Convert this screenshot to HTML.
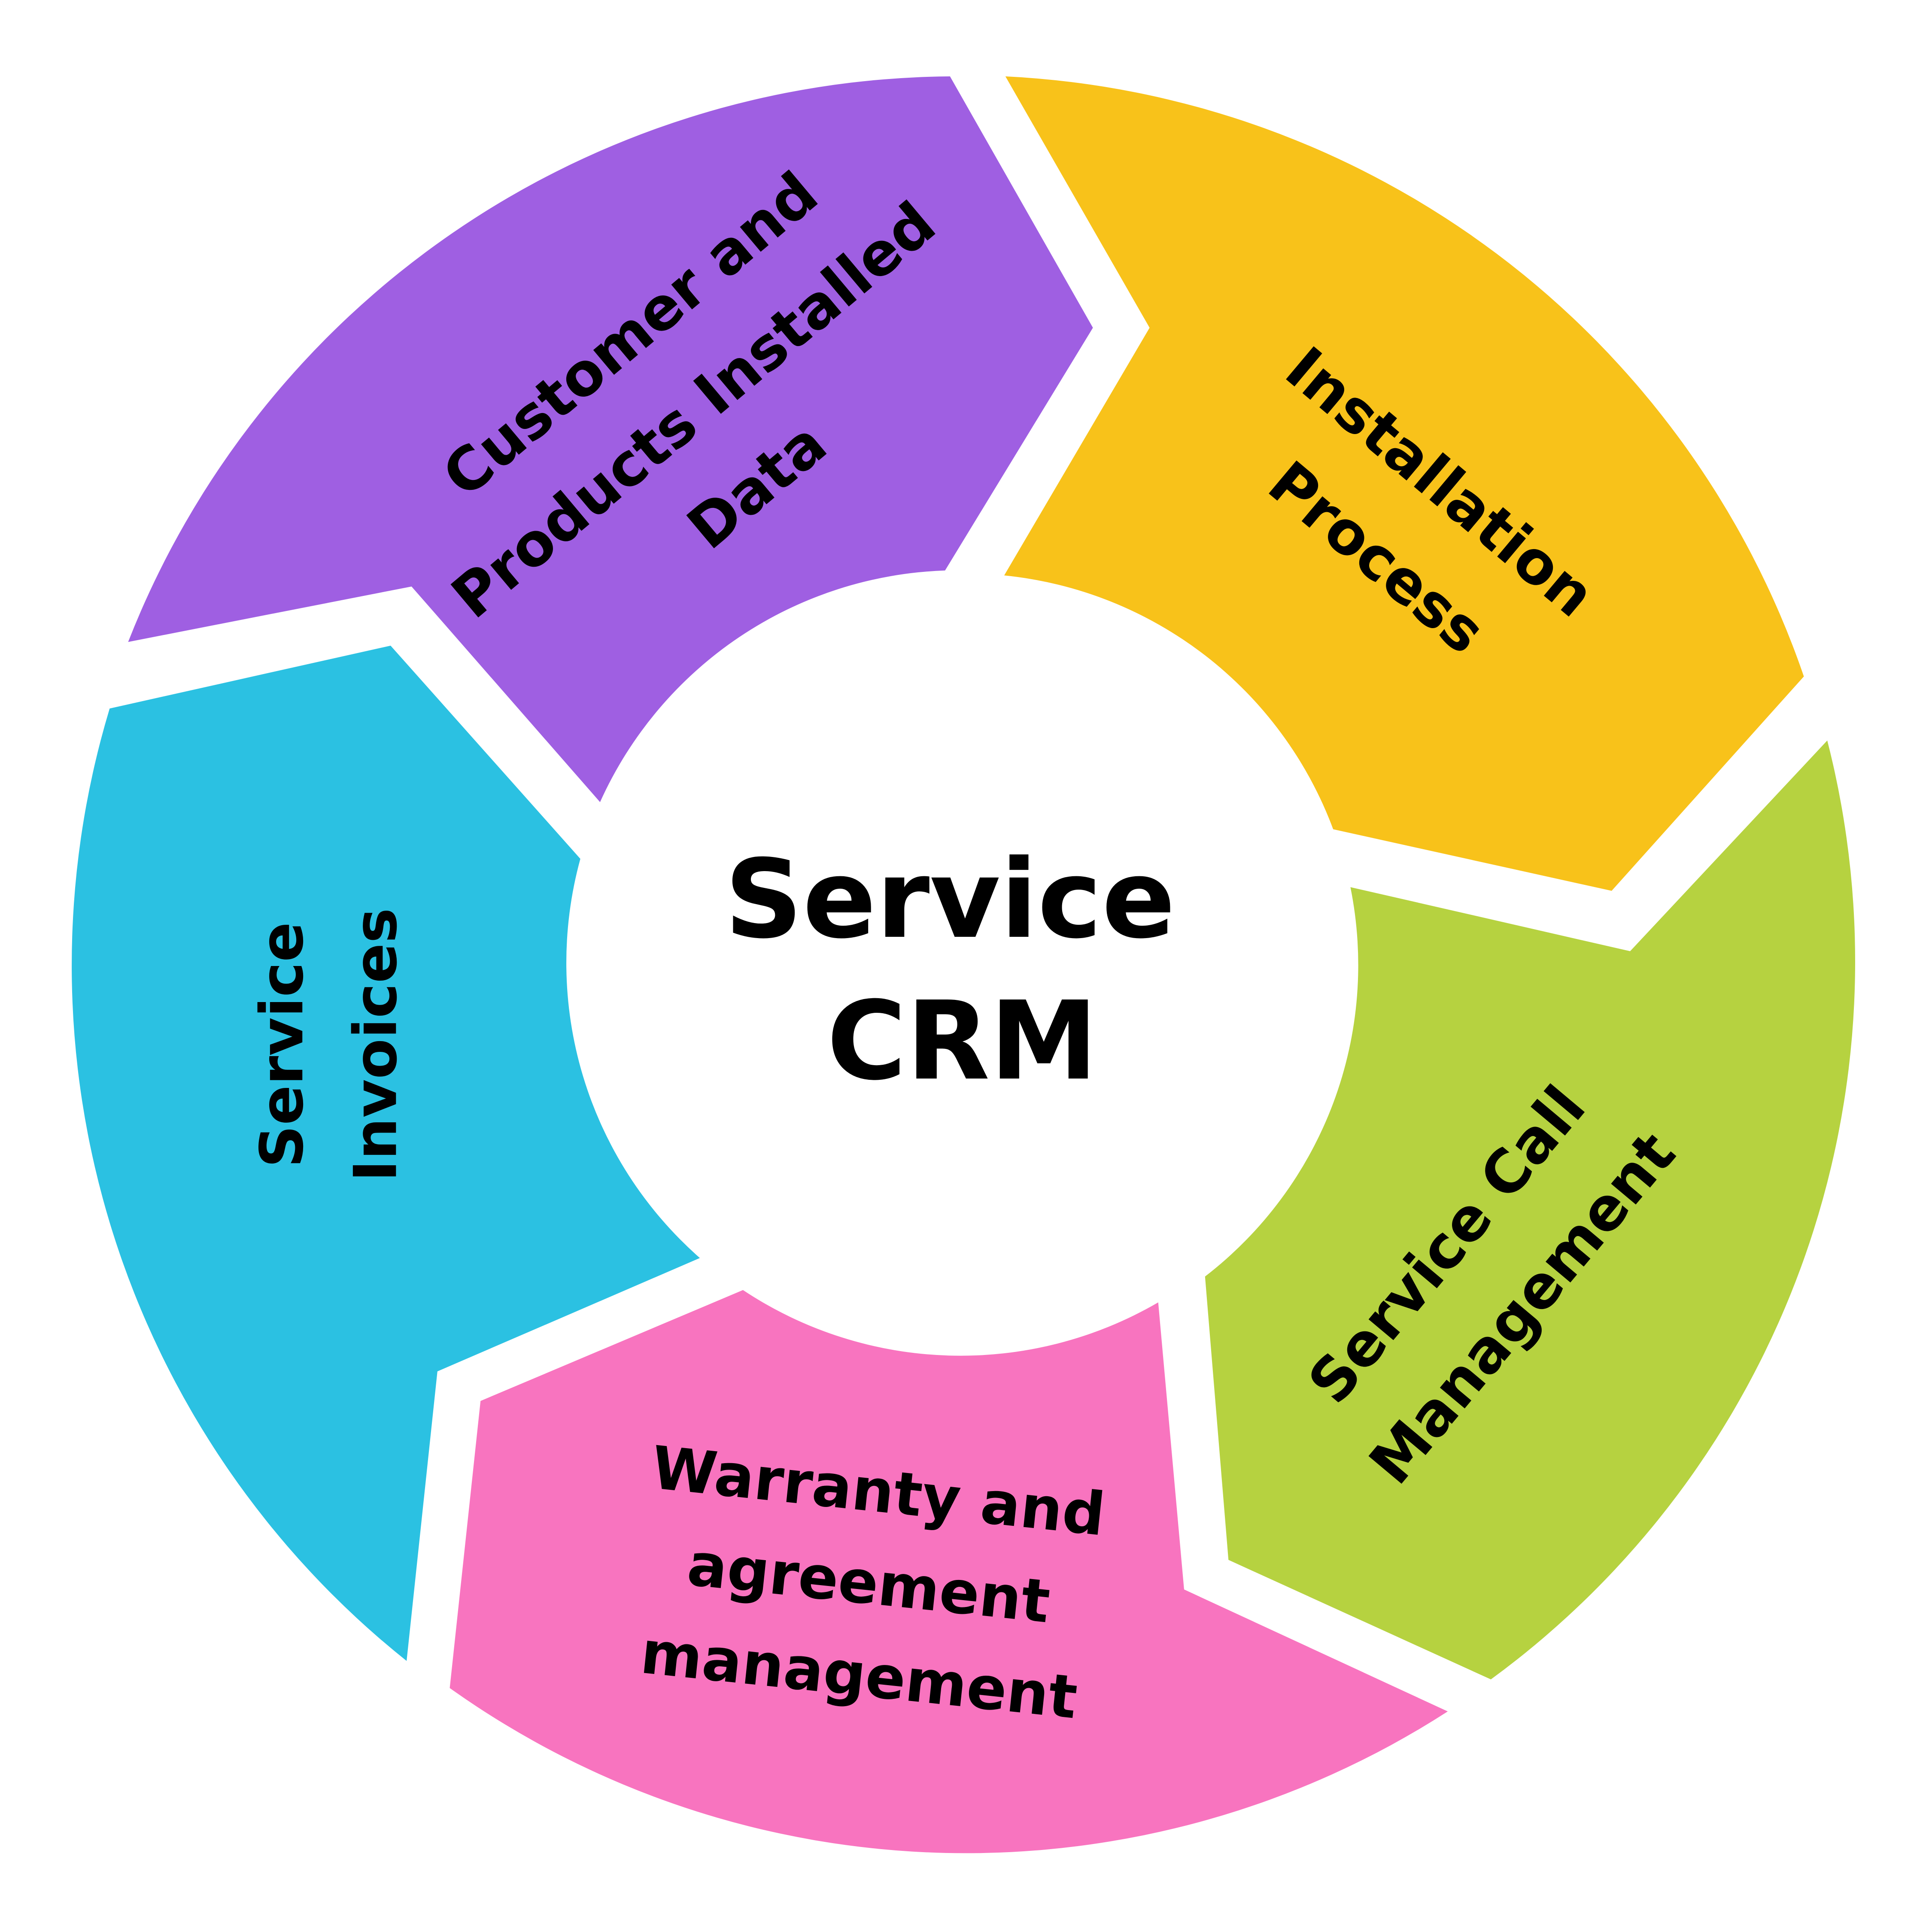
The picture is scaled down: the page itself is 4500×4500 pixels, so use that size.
<!DOCTYPE html>
<html><head><meta charset="utf-8"><style>
html,body{margin:0;padding:0;background:#fff;}
svg{display:block;}
text{font-family:"DejaVu Sans","Liberation Sans",sans-serif;font-weight:bold;fill:#000;text-anchor:middle;dominant-baseline:central;}
</style></head><body>
<svg width="4500" height="4500" viewBox="0 0 1568 1568" xmlns="http://www.w3.org/2000/svg">
<rect width="1568" height="1568" fill="#fff"/>
<path d="M104,521 A722,722 0 0 1 771,62 L887,266 L767,463 A319,319 0 0 0 487,651 L334,476 Z" fill="#9f5fe2"/>
<path d="M816,62 A722,722 0 0 1 1464,549 L1308,723 L1082,673 A319,319 0 0 0 815,467 L933,266 Z" fill="#f8c21a"/>
<path d="M1483,601 A722,722 0 0 1 1210,1363 L997,1266 L978,1036 A319,319 0 0 0 1096,720 L1323,772 Z" fill="#b6d240"/>
<path d="M1175,1389 A722,722 0 0 1 365,1370 L390,1137 L603,1047 A319,319 0 0 0 940,1057 L961,1290 Z" fill="#f874bf"/>
<path d="M330,1348 A722,722 0 0 1 89,575 L317,524 L471,697 A319,319 0 0 0 568,1021 L355,1113 Z" fill="#2bc1e2"/>

<g transform="translate(563,333) rotate(-40)" font-size="48">
<text x="0" y="-80">Customer and</text>
<text x="0" y="0">Products Installed</text>
<text x="0" y="80">Data</text>
</g>
<g transform="translate(1143,422) rotate(40)" font-size="48">
<text x="0" y="-40">Installation</text>
<text x="0" y="40">Process</text>
</g>
<g transform="translate(1205,1036) rotate(-50)" font-size="48">
<text x="0" y="-40">Service Call</text>
<text x="0" y="40">Management</text>
</g>
<g transform="translate(705,1285) rotate(6)" font-size="48">
<text x="0" y="-75">Warranty  and</text>
<text x="0" y="0">agreement</text>
<text x="0" y="75">management</text>
</g>
<g transform="translate(267,848) rotate(-90)" font-size="48">
<text x="0" y="-38">Service</text>
<text x="0" y="38">Invoices</text>
</g>
<text x="771" y="730" font-size="88">Service</text>
<text x="781" y="845" font-size="88">CRM</text>
</svg>
</body></html>
